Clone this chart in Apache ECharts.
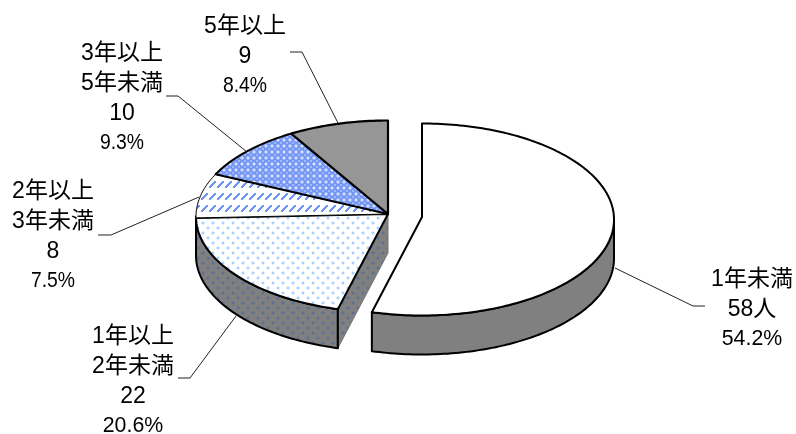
<!DOCTYPE html>
<html><head><meta charset="utf-8">
<style>html,body{margin:0;padding:0;background:#fff}#c{width:796px;height:434px}</style>
<script src="https://cdn.jsdelivr.net/npm/echarts@6/dist/echarts.min.js"></script>
</head><body><div id="c"></div>
<script>
// ---- data ----
const categories = ['1年未満','1年以上2年未満','2年以上3年未満','3年以上5年未満','5年以上'];
const counts = [58,22,8,10,9];
const percentLabels = ['54.2%','20.6%','7.5%','9.3%','8.4%'];
const nameLines = [['1年未満'],['1年以上','2年未満'],['2年以上','3年未満'],['3年以上','5年未満'],['5年以上']];
const countLabels = ['58人','22','8','10','9'];

// ---- layout ----
const RX=192, RY=96, DEPTH=39, ELLIPSE_DY=2.5;
const centers=[[422,217],[388,214],[388,214],[388,214],[388,214]];
const labelPos=[[752,280],[133,337],[53,192],[122,54],[245,27]];
const LINE_H=29.7;
const leaders=[
 [[615,268],[693,306],[705,306]],
 [[236,316],[190,378],[178,378]],
 [[199,197],[111,235],[98,235]],
 [[247,152],[178,96],[166,96]],
 [[338,123],[302,52],[290,52]]
];

function pattern(w,h,bg,draw){
  const c=document.createElement('canvas');c.width=w;c.height=h;
  const x=c.getContext('2d');x.fillStyle=bg;x.fillRect(0,0,w,h);draw(x);
  return {image:c,repeat:'repeat'};
}
const dots=(col,a)=>(x)=>{
  [[2,2],[7,7]].forEach(p=>{
    x.fillStyle=col;x.globalAlpha=a;x.fillRect(p[0],p[1],2,2);
    x.globalAlpha=a*0.35;x.fillRect(p[0]-1,p[1],4,2);x.fillRect(p[0],p[1]-1,2,4);
  });};
const topFills=[
 '#ffffff',
 pattern(10,10,'#ffffff',dots('#a6d0ff',1)),
 pattern(8,12,'#ffffff',x=>{x.fillStyle='#7095f5';
   x.fillRect(6,1,2,1);x.fillRect(5,2,3,1);x.fillRect(4,3,3,1);x.fillRect(3,4,3,1);x.fillRect(2,5,3,1);x.fillRect(1,6,3,1);x.fillRect(1,7,2,1);}),
 pattern(6,6,'#7496f5',x=>{x.fillStyle='#ffffff';
   x.globalAlpha=.7;x.fillRect(1,1,2,2);
   x.globalAlpha=.35;x.fillRect(4,4,2,2);x.fillRect(0,1,1,2);x.fillRect(3,1,1,2);x.fillRect(1,0,2,1);x.fillRect(1,3,2,1);}),
 '#969696'
];
const wallFills=[
 '#808080',
 pattern(10,10,'#808080',dots('#5c6f94',1)),
 '#808080','#808080','#808080'
];
const topWidth=[2,2,1,2,2.2];

const total=counts.reduce((a,b)=>a+b,0);
function pt(c,a,dz){return [c[0]+RX*Math.sin(a),c[1]+ELLIPSE_DY-RY*Math.cos(a)+(dz||0)];}
function arc(c,a0,a1,dz){const n=Math.max(2,Math.ceil(Math.abs(a1-a0)/0.02));const r=[];
  for(let i=0;i<=n;i++)r.push(pt(c,a0+(a1-a0)*i/n,dz));return r;}

function renderItem(params,api){
  const i=params.dataIndex;
  const before=counts.slice(0,i).reduce((a,b)=>a+b,0);
  const a0=before/total*2*Math.PI, a1=(before+api.value(0))/total*2*Math.PI;
  const c=centers[i], kids=[];
  const line={stroke:'#000',lineWidth:2,lineJoin:'round'};
  const w0=Math.max(a0,Math.PI/2), w1=Math.min(a1,Math.PI*1.5);
  if(w1>w0){
    const upper=arc(c,w0,w1,0), lower=arc(c,w1,w0,DEPTH);
    kids.push({type:'polygon',shape:{points:upper.concat(lower)},style:Object.assign({fill:wallFills[i]},line)});
  }
  if(i===1){
    const p=pt(c,a0,0);
    kids.push({type:'polygon',shape:{points:[c,p,[p[0],p[1]+DEPTH],[c[0],c[1]+DEPTH]]},
      style:{fill:wallFills[1],stroke:'#777',lineWidth:1}});
    kids.push({type:'polyline',shape:{points:[p,[p[0],p[1]+DEPTH]]},style:{stroke:'#000',lineWidth:2,fill:'none'}});
  }
  const face=[c].concat(arc(c,a0,a1,0));
  kids.push({type:'polygon',shape:{points:face},style:{fill:topFills[i],stroke:'#000',lineWidth:topWidth[i],lineJoin:'round'}});
  kids.push({type:'polyline',shape:{points:leaders[i]},style:{stroke:'#222',lineWidth:1,fill:'none'}});
  const lines=nameLines[i].concat([countLabels[i],percentLabels[i]]);
  lines.forEach((t,k)=>{
    const isPct=k===lines.length-1;
    const el={type:'text',x:labelPos[i][0],y:labelPos[i][1]+k*LINE_H,
      style:{text:t,align:'center',verticalAlign:'middle',fill:'#000',
        font:(isPct?'22px':'23px')+' "Liberation Sans","Noto Sans CJK JP",sans-serif'}};
    if(isPct) el.scaleX = t.length>4 ? 0.97 : 0.88;
    kids.push(el);
  });
  return {type:'group',children:kids};
}
const chart=echarts.init(document.getElementById('c'),null,{renderer:'canvas'});
chart.setOption({
  animation:false,
  backgroundColor:'#ffffff',
  xAxis:{show:false},yAxis:{show:false},
  series:[{type:'custom',coordinateSystem:'none',silent:true,
    renderItem:renderItem,
    data:counts.map((v,i)=>({name:categories[i],value:[v]}))}]
});
</script></body></html>
